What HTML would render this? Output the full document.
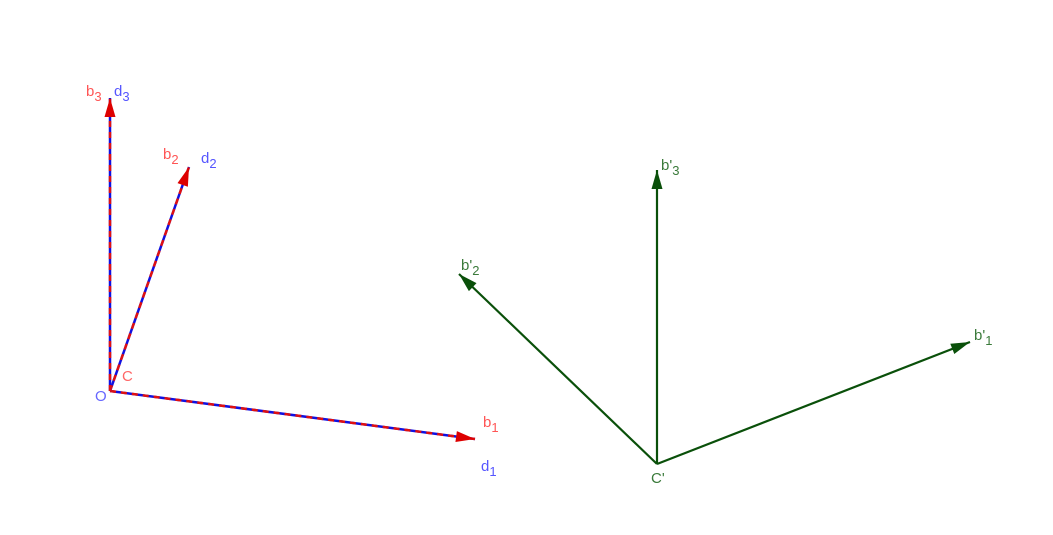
<!DOCTYPE html>
<html><head><meta charset="utf-8"><style>
body{margin:0;background:#fff;width:1053px;height:535px;overflow:hidden}
svg{display:block;font-family:"Liberation Sans",sans-serif}
</style></head><body>
<svg id="c" width="1053" height="535"></svg>
<script>
const originLeft=[110,391];
const leftVecs=[[475,439],[189,167],[110,98]];
const leftNames=["1","2","3"];
const originRight=[657,464];
const rightVecs=[[970,342],[459,274],[657,170]];
const NS="http://www.w3.org/2000/svg";
const svg=document.getElementById('c');
function el(t,a,p){const e=document.createElementNS(NS,t);for(const k in a)e.setAttribute(k,a[k]);(p||svg).appendChild(e);return e;}
function arrow(x0,y0,x1,y1,col){
  const dx=x1-x0,dy=y1-y0,L=Math.hypot(dx,dy),ux=dx/L,uy=dy/L,h=19,w=5.5;
  const bx=x1-ux*h,by=y1-uy*h;
  return el('polygon',{points:`${x1},${y1} ${bx-uy*w},${by+ux*w} ${bx+uy*w},${by-ux*w}`,fill:col});
}
function sub(parent,x,y,base,s,col,name){
  const t=el('text',{x:x,y:y,fill:col,'font-size':15},parent);
  
  
  t.textContent=base;
  const ts=el('tspan',{dy:5,'font-size':13},t);ts.textContent=s;
}
const [ox,oy]=originLeft;
const labOff=[[[8,-12],[6,32]],[[-26,-8],[12,-4]],[[-24,-2],[4,-2]]];
leftVecs.forEach((v,i)=>{
  const g=el('g',{});
  
  
  el('line',{x1:ox,y1:oy,x2:v[0],y2:v[1],stroke:'#1010e0','stroke-width':2.5},g);
  el('line',{x1:ox,y1:oy,x2:v[0],y2:v[1],stroke:'#e01010','stroke-width':2.5,'stroke-dasharray':'6 5'},g);
  arrow(ox,oy,v[0],v[1],'#dd0000');
  sub(g,v[0]+labOff[i][0][0],v[1]+labOff[i][0][1],'b',leftNames[i],'#ff5555','label-b'+leftNames[i]);
  sub(g,v[0]+labOff[i][1][0],v[1]+labOff[i][1][1],'d',leftNames[i],'#5555ff','label-d'+leftNames[i]);
});
let t=el('text',{x:95,y:401,fill:'#6666ff','font-size':15});t.textContent='O';


t=el('text',{x:122,y:381,fill:'#ff6666','font-size':15});t.textContent='C';


const [rx,ry]=originRight;
const rOff=[[4,-2],[2,-4],[4,0]];
rightVecs.forEach((v,i)=>{
  const g=el('g',{});
  
  
  el('line',{x1:rx,y1:ry,x2:v[0],y2:v[1],stroke:'#0a500a','stroke-width':2.2},g);
  arrow(rx,ry,v[0],v[1],'#0a500a');
  sub(g,v[0]+rOff[i][0],v[1]+rOff[i][1],"b'",leftNames[i],'#3a7a3a','label-bprime'+leftNames[i]);
});
t=el('text',{x:651,y:483,fill:'#3a7a3a','font-size':15});t.textContent="C'";


</script>
</body></html>
